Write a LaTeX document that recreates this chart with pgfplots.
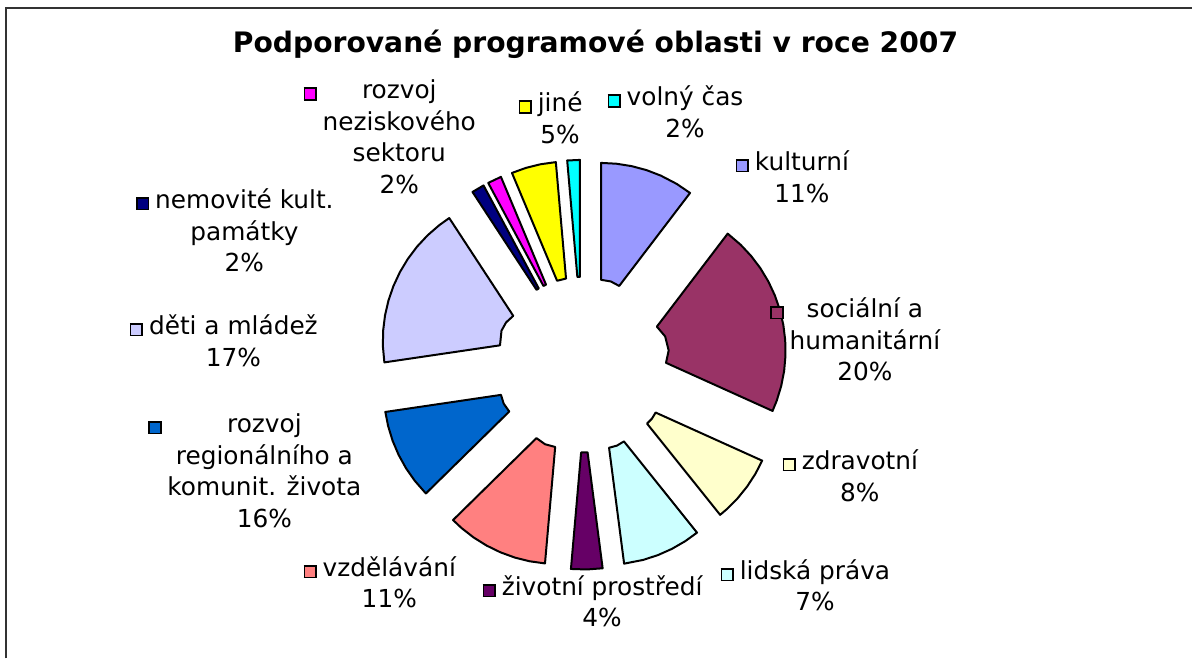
\documentclass[border=0pt]{standalone}
\usepackage{pgfplots}
\pgfplotsset{compat=1.18}
\usepackage{fontspec}
\setmainfont{DejaVu Sans}
\definecolor{ckult}{HTML}{9999FF}
\definecolor{csoc}{HTML}{993366}
\definecolor{czdrav}{HTML}{FFFFCC}
\definecolor{clid}{HTML}{CCFFFF}
\definecolor{cziv}{HTML}{660066}
\definecolor{cvzd}{HTML}{FF8080}
\definecolor{creg}{HTML}{0066CC}
\definecolor{cdeti}{HTML}{CCCCFF}
\definecolor{cnem}{HTML}{000080}
\definecolor{cnez}{HTML}{FF00FF}
\definecolor{cjine}{HTML}{FFFF00}
\definecolor{cvolny}{HTML}{00FFFF}
\newcommand{\key}[1]{{\setlength{\fboxsep}{0pt}\setlength{\fboxrule}{0.8pt}\fcolorbox{black}{#1}{\rule{0pt}{5pt}\rule{5pt}{0pt}}}}
\newcommand{\lab}[4]{\node[anchor=base, inner sep=0pt, font=\fontsize{12.4}{15.75}\selectfont] at (axis cs:#1,#2) {\begin{tabular}[t]{@{}l@{\hspace{3pt}}c@{}}\key{#3} & #4\end{tabular}};}
\newcommand\XE{583+58*cos(\thisrow{b})+\thisrow{r}*cos(\thisrow{a})}
\newcommand\YE{294+58*sin(\thisrow{b})+\thisrow{r}*sin(\thisrow{a})}
\pgfplotsset{sl/.style={fill=#1, draw=black, line width=1pt, line join=round, mark=none}}
\begin{document}
\begin{tikzpicture}
\begin{axis}[scale only axis, width=596.5pt, height=329.5pt,
  xmin=0, xmax=1193, ymin=0, ymax=659, hide axis, clip=false]
\path (axis cs:0,0) rectangle (axis cs:1193,659);
\draw[line width=1pt, black!80] (axis cs:6,0) -- (axis cs:6,651) -- (axis cs:1193,651);
% slices: a = angle, r = radius, b = direction of explosion
\addplot[sl=ckult] table[row sep=\\, x expr=\XE, y expr=\YE] {a r b\\ 90 30 71.35\\ 90 147 71.35\\ 84 147 71.35\\ 78 147 71.35\\ 72 147 71.35\\ 66 147 71.35\\ 59 147 71.35\\ 52.7 147 71.35\\ 52.7 30 71.35\\ 71 30 71.35\\} -- cycle;
\addplot[sl=csoc] table[row sep=\\, x expr=\XE, y expr=\YE] {a r b\\ 52.7 30 14.2\\ 52.7 147 14.2\\ 46 147 14.2\\ 40 147 14.2\\ 34 147 14.2\\ 28 147 14.2\\ 22 147 14.2\\ 16 147 14.2\\ 10 147 14.2\\ 4 147 14.2\\ -2 147 14.2\\ -8 147 14.2\\ -14 147 14.2\\ -20 147 14.2\\ -24.3 147 14.2\\ -24.3 30 14.2\\ 0 30 14.2\\ 28 30 14.2\\} -- cycle;
\addplot[sl=czdrav] table[row sep=\\, x expr=\XE, y expr=\YE] {a r b\\ -24.3 30 -37.8\\ -24.3 147 -37.8\\ -30 147 -37.8\\ -36 147 -37.8\\ -42 147 -37.8\\ -48 147 -37.8\\ -51.3 147 -37.8\\ -51.3 30 -37.8\\ -38 30 -37.8\\} -- cycle;
\addplot[sl=clid] table[row sep=\\, x expr=\XE, y expr=\YE] {a r b\\ -51.3 30 -66.95\\ -51.3 147 -66.95\\ -57 147 -66.95\\ -63 147 -66.95\\ -69 147 -66.95\\ -75 147 -66.95\\ -82.6 147 -66.95\\ -82.6 30 -66.95\\ -67 30 -66.95\\} -- cycle;
\addplot[sl=cziv] table[row sep=\\, x expr=\XE, y expr=\YE] {a r b\\ -82.6 30 -88.8\\ -82.6 147 -88.8\\ -88.8 147 -88.8\\ -95 147 -88.8\\ -95 30 -88.8\\} -- cycle;
\addplot[sl=cvzd] table[row sep=\\, x expr=\XE, y expr=\YE] {a r b\\ -95 30 -115.25\\ -95 147 -115.25\\ -101 147 -115.25\\ -107 147 -115.25\\ -113 147 -115.25\\ -119 147 -115.25\\ -125 147 -115.25\\ -131 147 -115.25\\ -135.5 147 -115.25\\ -135.5 30 -115.25\\ -115 30 -115.25\\} -- cycle;
\addplot[sl=creg] table[row sep=\\, x expr=\XE, y expr=\YE] {a r b\\ 224.5 30 206.45\\ 224.5 147 206.45\\ 218 147 206.45\\ 212 147 206.45\\ 206 147 206.45\\ 200 147 206.45\\ 194 147 206.45\\ 188.4 147 206.45\\ 188.4 30 206.45\\ 206 30 206.45\\} -- cycle;
\addplot[sl=cdeti] table[row sep=\\, x expr=\XE, y expr=\YE] {a r b\\ 188.4 30 155.8\\ 188.4 147 155.8\\ 182 147 155.8\\ 176 147 155.8\\ 170 147 155.8\\ 164 147 155.8\\ 158 147 155.8\\ 152 147 155.8\\ 146 147 155.8\\ 140 147 155.8\\ 134 147 155.8\\ 128 147 155.8\\ 123.2 147 155.8\\ 123.2 30 155.8\\ 142 30 155.8\\ 160 30 155.8\\} -- cycle;
\addplot[sl=cnem] table[row sep=\\, x expr=\XE, y expr=\YE] {a r b\\ 123.2 30 120.7\\ 123.2 147 120.7\\ 118.2 147 120.7\\ 118.2 30 120.7\\} -- cycle;
\addplot[sl=cnez] table[row sep=\\, x expr=\XE, y expr=\YE] {a r b\\ 118.2 30 115.45\\ 118.2 147 115.45\\ 112.7 147 115.45\\ 112.7 30 115.45\\} -- cycle;
\addplot[sl=cjine] table[row sep=\\, x expr=\XE, y expr=\YE] {a r b\\ 112.7 30 103.85\\ 112.7 147 103.85\\ 107 147 103.85\\ 101 147 103.85\\ 95 147 103.85\\ 95 30 103.85\\} -- cycle;
\addplot[sl=cvolny] table[row sep=\\, x expr=\XE, y expr=\YE] {a r b\\ 95 30 92.5\\ 95 147 92.5\\ 90 147 92.5\\ 90 30 92.5\\} -- cycle;
% title
\node[anchor=base, inner sep=0pt, font=\bfseries\fontsize{14.1}{17}\selectfont] at (axis cs:596,606) {Podporované programové oblasti v roce 2007};
% labels
\lab{676}{553}{cvolny}{volný čas\\ & 2\%}
\lab{793}{488}{ckult}{kulturní\\ & 11\%}
\lab{856}{341}{csoc}{sociální a\\ & humanitární\\ & 20\%}
\lab{851}{189}{czdrav}{zdravotní\\ & 8\%}
\lab{806}{79}{clid}{lidská práva\\ & 7\%}
\lab{593}{63}{cziv}{životní prostředí\\ & 4\%}
\lab{380}{82}{cvzd}{vzdělávání\\ & 11\%}
\lab{255}{226}{creg}{rozvoj\\ & regionálního a\\ & komunit. života\\ & 16\%}
\lab{224}{324}{cdeti}{děti a mládež\\ & 17\%}
\lab{235}{450}{cnem}{nemovité kult.\\ & památky\\ & 2\%}
\lab{390}{560}{cnez}{rozvoj\\ & neziskového\\ & sektoru\\ & 2\%}
\lab{551}{547}{cjine}{jiné\\ & 5\%}
\end{axis}
\end{tikzpicture}
\end{document}
